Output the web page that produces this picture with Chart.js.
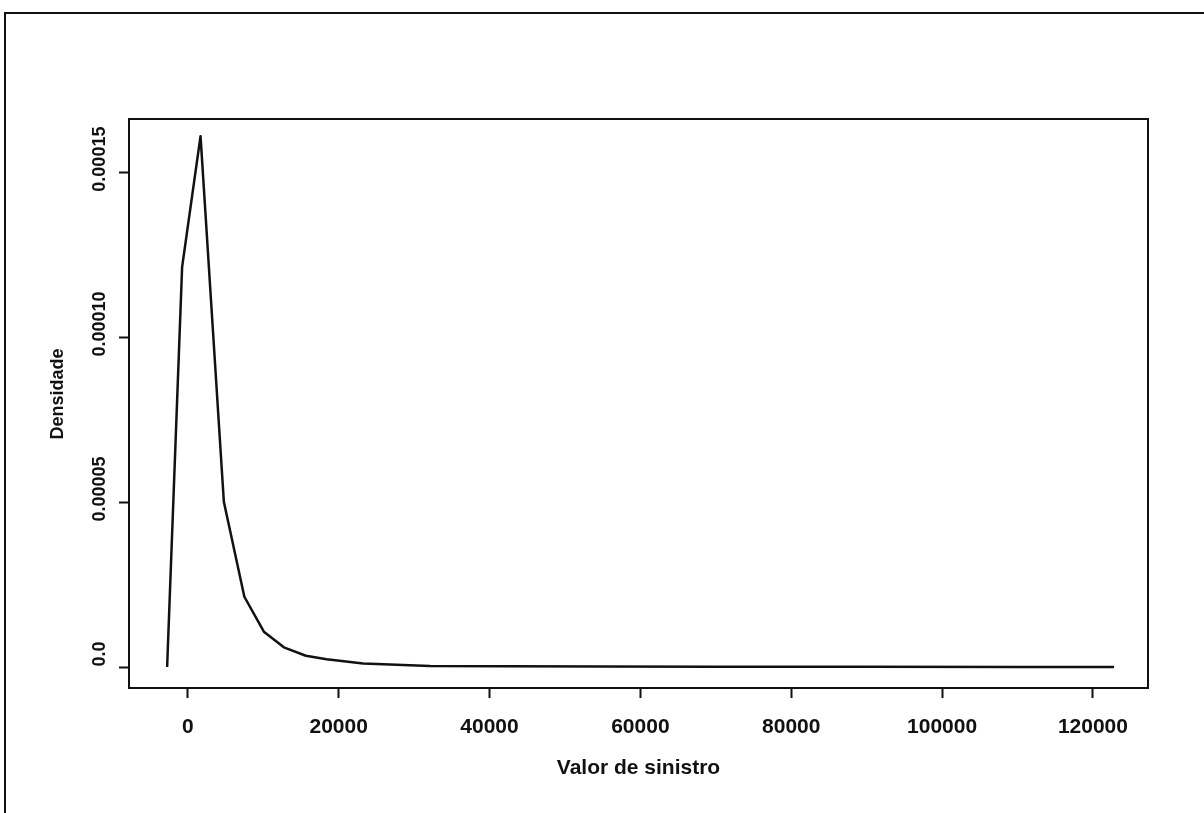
<!DOCTYPE html>
<html lang="pt">
<head>
  <meta charset="UTF-8" />
  <title>Densidade - Valor de sinistro</title>
  <script src="https://cdn.jsdelivr.net/npm/chart.js"></script>
  <style>
    html, body {
      margin: 0;
      padding: 0;
      background: #fff;
      overflow: hidden;
    }
    .frame {
      position: absolute;
      left: 4px;
      top: 12px;
      width: 1300px;
      height: 900px;
      border-left: 2px solid #111;
      border-top: 2px solid #111;
    }
    .wrap {
      position: absolute;
      left: 0;
      top: 0;
      width: 1204px;
      height: 813px;
    }
  </style>
</head>
<body>
  <div class="frame"></div>
  <div class="wrap"><canvas id="densChart" width="1204" height="813"></canvas></div>

  <script>
    // values
    const xValues = [-2745, -756, 1684, 4775, 7493, 10080, 12730, 15650, 18395, 23250, 32100, 42000, 55000, 70000, 90000, 110000, 122800];
    const densityValues = [0, 1.213e-4, 1.609e-4, 5.01e-5, 2.13e-5, 1.07e-5, 5.97e-6, 3.42e-6, 2.33e-6, 1.1e-6, 3e-7, 2e-7, 1.2e-7, 8e-8, 5e-8, 3e-8, 2e-8];

    const xTicks = [0, 20000, 40000, 60000, 80000, 100000, 120000];
    const yTicks = [0, 0.00005, 0.0001, 0.00015];
    const yTickLabels = ['0.0', '0.00005', '0.00010', '0.00015'];

    const xTitle = 'Valor de sinistro';
    const yTitle = 'Densidade';

    const FONT = "'Liberation Sans', Arial, sans-serif";
    const INK = '#111';

    const points = xValues.map((x, i) => ({ x: x, y: densityValues[i] }));

    // box around the plot + rotated y labels and both titles (R style)
    const rStyle = {
      id: 'rStyle',
      afterDraw(chart) {
        const ctx = chart.ctx;
        const area = chart.chartArea;
        const yScale = chart.scales.y;
        ctx.save();
        ctx.strokeStyle = INK;
        ctx.lineWidth = 2;
        ctx.strokeRect(area.left, area.top, area.right - area.left, area.bottom - area.top);

        ctx.fillStyle = INK;
        ctx.textAlign = 'center';
        ctx.textBaseline = 'middle';

        ctx.font = 'bold 18px ' + FONT;
        yTicks.forEach((v, i) => {
          const py = yScale.getPixelForValue(v) - 13;
          ctx.save();
          ctx.translate(100, py);
          ctx.rotate(-Math.PI / 2);
          ctx.fillText(yTickLabels[i], 0, 0);
          ctx.restore();
        });

        ctx.save();
        ctx.translate(58, 394);
        ctx.rotate(-Math.PI / 2);
        ctx.fillText(yTitle, 0, 0);
        ctx.restore();

        ctx.font = 'bold 21px ' + FONT;
        ctx.fillText(xTitle, (area.left + area.right) / 2, 768);
        ctx.restore();
      }
    };

    new Chart(document.getElementById('densChart'), {
      type: 'scatter',
      data: {
        datasets: [{
          data: points,
          showLine: true,
          borderColor: INK,
          borderWidth: 2.5,
          borderJoinStyle: 'round',
          pointRadius: 0,
          tension: 0,
          fill: false
        }]
      },
      options: {
        responsive: false,
        animation: false,
        layout: { padding: { top: 119, right: 56, left: 0, bottom: 0 } },
        plugins: {
          legend: { display: false },
          tooltip: { enabled: false }
        },
        scales: {
          x: {
            type: 'linear',
            min: -7800,
            max: 127300,
            afterBuildTicks: axis => { axis.ticks = xTicks.map(v => ({ value: v })); },
            afterFit: axis => { axis.height = 125; },
            border: { display: false },
            grid: {
              drawOnChartArea: false,
              drawTicks: true,
              tickLength: 10,
              tickWidth: 2,
              color: INK
            },
            ticks: {
              padding: 17,
              maxRotation: 0,
              autoSkip: false,
              color: INK,
              font: { family: FONT, size: 21, weight: 'bold' },
              callback: v => String(v)
            }
          },
          y: {
            type: 'linear',
            min: -6.36e-6,
            max: 1.661e-4,
            afterBuildTicks: axis => { axis.ticks = yTicks.map(v => ({ value: v })); },
            afterFit: axis => { axis.width = 129; },
            border: { display: false },
            grid: {
              drawOnChartArea: false,
              drawTicks: true,
              tickLength: 10,
              tickWidth: 2,
              color: INK
            },
            ticks: { display: false }
          }
        }
      },
      plugins: [rStyle]
    });
  </script>
</body>
</html>
